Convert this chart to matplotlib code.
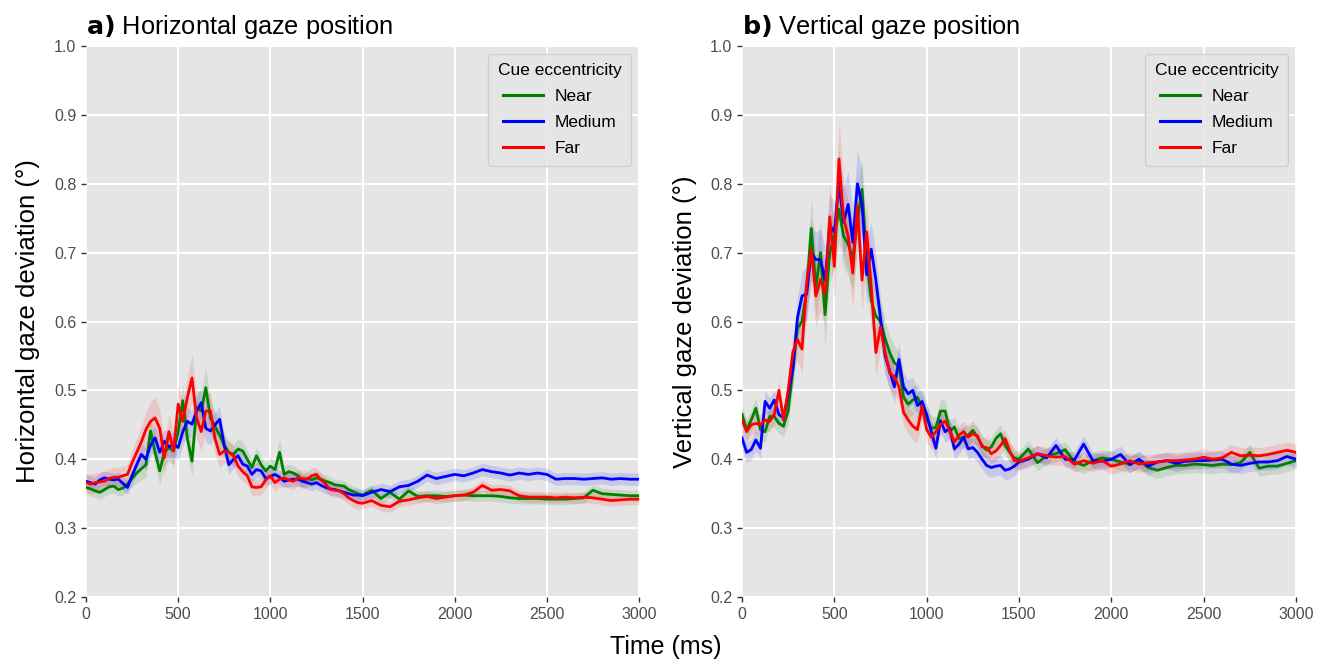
import matplotlib
matplotlib.use("Agg")
import matplotlib.pyplot as plt
import numpy as np

plt.rcParams["font.family"] = ["Liberation Sans", "DejaVu Sans"]

# time axis (ms): 25 ms steps up to 1475, then 50 ms steps
TIME = [*range(0, 1500, 25), *range(1500, 3001, 50)]

LABELS = ["Near", "Medium", "Far"]
COLORS = ["green", "blue", "red"]

# ---- a) horizontal gaze deviation (deg) ----
h_near = [
    0.359, 0.357, 0.354, 0.352, 0.356, 0.360, 0.361, 0.356, 0.358, 0.364,
    0.372, 0.380, 0.386, 0.392, 0.441, 0.410, 0.383, 0.410, 0.417, 0.412,
    0.440, 0.485, 0.430, 0.397, 0.475, 0.470, 0.504, 0.460, 0.448, 0.435,
    0.420, 0.410, 0.407, 0.415, 0.412, 0.400, 0.388, 0.405, 0.392, 0.383,
    0.390, 0.385, 0.410, 0.378, 0.382, 0.380, 0.376, 0.368, 0.372, 0.370,
    0.373, 0.371, 0.368, 0.366, 0.363, 0.362, 0.361, 0.356, 0.353, 0.350,
    0.348, 0.355, 0.343, 0.352, 0.342, 0.354, 0.346, 0.347, 0.347, 0.346,
    0.347, 0.348, 0.347, 0.347, 0.347, 0.346, 0.344, 0.343, 0.343, 0.343,
    0.342, 0.342, 0.342, 0.343, 0.344, 0.355, 0.350, 0.349, 0.348, 0.347,
    0.347,
]
h_medium = [
    0.368, 0.366, 0.364, 0.370, 0.373, 0.371, 0.370, 0.371, 0.365, 0.359,
    0.376, 0.392, 0.407, 0.400, 0.420, 0.431, 0.410, 0.426, 0.418, 0.422,
    0.417, 0.440, 0.455, 0.451, 0.470, 0.482, 0.445, 0.441, 0.450, 0.458,
    0.420, 0.392, 0.400, 0.405, 0.393, 0.390, 0.378, 0.385, 0.383, 0.372,
    0.375, 0.378, 0.374, 0.368, 0.370, 0.371, 0.371, 0.368, 0.366, 0.364,
    0.366, 0.362, 0.359, 0.357, 0.356, 0.354, 0.352, 0.350, 0.348, 0.348,
    0.347, 0.352, 0.356, 0.353, 0.360, 0.362, 0.368, 0.377, 0.372, 0.375,
    0.378, 0.376, 0.380, 0.385, 0.382, 0.380, 0.377, 0.380, 0.378, 0.380,
    0.378, 0.371, 0.372, 0.372, 0.371, 0.372, 0.373, 0.371, 0.372, 0.371,
    0.371,
]
h_far = [
    0.366, 0.364, 0.366, 0.367, 0.368, 0.372, 0.374, 0.374, 0.376, 0.378,
    0.395, 0.410, 0.425, 0.443, 0.455, 0.460, 0.445, 0.402, 0.440, 0.412,
    0.480, 0.455, 0.490, 0.518, 0.460, 0.440, 0.470, 0.470, 0.430, 0.407,
    0.412, 0.410, 0.405, 0.390, 0.382, 0.376, 0.360, 0.359, 0.360, 0.370,
    0.376, 0.366, 0.371, 0.373, 0.370, 0.368, 0.373, 0.372, 0.371, 0.376,
    0.378, 0.370, 0.364, 0.356, 0.355, 0.354, 0.350, 0.344, 0.340, 0.337,
    0.336, 0.340, 0.333, 0.331, 0.339, 0.341, 0.344, 0.346, 0.343, 0.345,
    0.347, 0.348, 0.352, 0.362, 0.355, 0.356, 0.354, 0.347, 0.345, 0.345,
    0.345, 0.344, 0.345, 0.344, 0.345, 0.344, 0.342, 0.340, 0.341, 0.342,
    0.342,
]
# ribbon half widths
h_near_se = (
    [0.010] * 10
    + [0.012, 0.014, 0.016, 0.018, 0.020, 0.020, 0.020, 0.020, 0.020, 0.020]
    + [0.022, 0.025, 0.025, 0.022, 0.025, 0.028, 0.030, 0.025, 0.022, 0.020]
    + [0.018, 0.016, 0.015, 0.015, 0.014, 0.013, 0.012, 0.012, 0.012, 0.012]
    + [0.012, 0.013, 0.020, 0.012, 0.011, 0.011, 0.010, 0.010, 0.010, 0.010]
    + [0.010, 0.009, 0.009, 0.008, 0.008, 0.008, 0.008, 0.008, 0.008, 0.008]
    + [0.008] * 31
)
h_medium_se = (
    [0.010] * 10
    + [0.012, 0.013, 0.015, 0.016, 0.017, 0.018, 0.018, 0.018, 0.018, 0.018]
    + [0.018, 0.020, 0.020, 0.020, 0.022, 0.022, 0.020, 0.020, 0.018, 0.018]
    + [0.016, 0.014, 0.013, 0.013, 0.012, 0.012, 0.011, 0.011, 0.011, 0.010]
    + [0.010] * 10
    + [0.009] * 10
    + [0.009] * 31
)
h_far_se = (
    [0.014] * 10
    + [0.018, 0.020, 0.022, 0.025, 0.028, 0.030, 0.028, 0.025, 0.025, 0.025]
    + [0.028, 0.030, 0.030, 0.035, 0.030, 0.028, 0.028, 0.026, 0.022, 0.020]
    + [0.018, 0.016, 0.015, 0.015, 0.014, 0.013, 0.012, 0.012, 0.012, 0.012]
    + [0.012] * 10
    + [0.010] * 10
    + [0.008] * 31
)

# ---- b) vertical gaze deviation (deg) ----
v_near = [
    0.465, 0.443, 0.457, 0.474, 0.443, 0.440, 0.462, 0.462, 0.452, 0.448,
    0.470, 0.530, 0.590, 0.600, 0.645, 0.735, 0.650, 0.700, 0.610, 0.700,
    0.724, 0.763, 0.724, 0.712, 0.692, 0.745, 0.792, 0.690, 0.630, 0.608,
    0.600, 0.575, 0.555, 0.540, 0.535, 0.490, 0.480, 0.486, 0.490, 0.475,
    0.460, 0.445, 0.446, 0.470, 0.470, 0.440, 0.447, 0.430, 0.432, 0.435,
    0.442, 0.432, 0.420, 0.413, 0.418, 0.430, 0.437, 0.420, 0.410, 0.402,
    0.400, 0.415, 0.395, 0.405, 0.408, 0.414, 0.396, 0.391, 0.398, 0.402,
    0.400, 0.396, 0.393, 0.398, 0.388, 0.384, 0.388, 0.391, 0.391, 0.393,
    0.392, 0.391, 0.393, 0.392, 0.395, 0.410, 0.387, 0.390, 0.390, 0.394,
    0.398,
]
v_medium = [
    0.431, 0.410, 0.414, 0.428, 0.416, 0.484, 0.474, 0.486, 0.465, 0.460,
    0.495, 0.530, 0.605, 0.637, 0.640, 0.700, 0.690, 0.690, 0.660, 0.740,
    0.730, 0.800, 0.744, 0.770, 0.715, 0.800, 0.770, 0.668, 0.705, 0.660,
    0.605, 0.550, 0.528, 0.505, 0.545, 0.505, 0.495, 0.500, 0.478, 0.484,
    0.465, 0.440, 0.416, 0.456, 0.440, 0.445, 0.415, 0.422, 0.432, 0.415,
    0.417, 0.410, 0.400, 0.391, 0.388, 0.390, 0.391, 0.384, 0.386, 0.390,
    0.396, 0.400, 0.408, 0.402, 0.420, 0.400, 0.399, 0.422, 0.398, 0.397,
    0.400, 0.407, 0.392, 0.400, 0.390, 0.396, 0.398, 0.394, 0.397, 0.398,
    0.398, 0.399, 0.400, 0.393, 0.391, 0.394, 0.396, 0.396, 0.398, 0.404,
    0.400,
]
v_far = [
    0.457, 0.440, 0.450, 0.452, 0.450, 0.457, 0.455, 0.465, 0.500, 0.457,
    0.500, 0.555, 0.574, 0.560, 0.655, 0.705, 0.637, 0.661, 0.640, 0.752,
    0.680, 0.836, 0.750, 0.724, 0.670, 0.768, 0.660, 0.730, 0.650, 0.555,
    0.592, 0.555, 0.525, 0.520, 0.505, 0.468, 0.457, 0.448, 0.443, 0.477,
    0.443, 0.432, 0.440, 0.451, 0.455, 0.442, 0.425, 0.435, 0.440, 0.432,
    0.437, 0.434, 0.418, 0.417, 0.408, 0.412, 0.420, 0.430, 0.412, 0.398,
    0.397, 0.402, 0.408, 0.405, 0.403, 0.404, 0.393, 0.398, 0.394, 0.398,
    0.390, 0.393, 0.398, 0.393, 0.395, 0.396, 0.398, 0.398, 0.399, 0.400,
    0.403, 0.400, 0.402, 0.410, 0.405, 0.406, 0.405, 0.407, 0.410, 0.413,
    0.410,
]
v_near_se = (
    [0.015] * 10
    + [0.020, 0.025, 0.030, 0.035, 0.040, 0.045, 0.045, 0.045, 0.045, 0.045]
    + [0.045, 0.045, 0.045, 0.045, 0.045, 0.045, 0.045, 0.040, 0.040, 0.035]
    + [0.030, 0.028, 0.025, 0.025, 0.022, 0.020, 0.020, 0.020, 0.020, 0.018]
    + [0.018, 0.018, 0.016, 0.016, 0.016, 0.015, 0.015, 0.015, 0.015, 0.015]
    + [0.014] * 10
    + [0.012] * 31
)
v_medium_se = (
    [0.015] * 10
    + [0.020, 0.025, 0.030, 0.035, 0.040, 0.040, 0.040, 0.045, 0.045, 0.045]
    + [0.045, 0.050, 0.050, 0.050, 0.045, 0.050, 0.050, 0.045, 0.040, 0.035]
    + [0.030, 0.028, 0.025, 0.025, 0.022, 0.020, 0.020, 0.020, 0.020, 0.018]
    + [0.018, 0.018, 0.016, 0.016, 0.016, 0.015, 0.015, 0.015, 0.015, 0.015]
    + [0.014] * 10
    + [0.012] * 31
)
v_far_se = (
    [0.015] * 10
    + [0.020, 0.025, 0.030, 0.035, 0.040, 0.045, 0.045, 0.045, 0.045, 0.050]
    + [0.050, 0.055, 0.055, 0.050, 0.050, 0.050, 0.045, 0.045, 0.040, 0.035]
    + [0.030, 0.028, 0.025, 0.025, 0.022, 0.020, 0.020, 0.020, 0.020, 0.018]
    + [0.018, 0.018, 0.016, 0.016, 0.016, 0.015, 0.015, 0.015, 0.015, 0.015]
    + [0.014] * 10
    + [0.012] * 31
)

PANELS = [
    ("a)", "Horizontal gaze position", "Horizontal gaze deviation (°)",
     [h_near, h_medium, h_far], [h_near_se, h_medium_se, h_far_se], 10),
    ("b)", "Vertical gaze position", "Vertical gaze deviation (°)",
     [v_near, v_medium, v_far], [v_near_se, v_medium_se, v_far_se], 9),
]

t = np.array(TIME)

fig = plt.figure(figsize=(13.18, 6.59), dpi=100)
rects = [
    [86 / 1318, 1 - 597 / 659, 553 / 1318, 551 / 659],
    [742 / 1318, 1 - 597 / 659, 554 / 1318, 551 / 659],
]

for rect, (tag, title, ylabel, series, ses, lpad) in zip(rects, PANELS):
    ax = fig.add_axes(rect)
    ax.set_facecolor("#E5E5E5")
    for spine in ax.spines.values():
        spine.set_visible(False)
    ax.grid(True, color="white", linewidth=1.4)
    ax.set_axisbelow(True)

    for vals, se, lab, col in zip(series, ses, LABELS, COLORS):
        y = np.array(vals)
        s = np.array(se)
        ax.fill_between(t, y - s, y + s, color=col, alpha=0.13, linewidth=0)
        ax.plot(t, y, color=col, linewidth=2.0, label=lab)

    ax.set_xlim(0, 3000)
    ax.set_ylim(0.2, 1.0)
    ax.set_xticks([0, 500, 1000, 1500, 2000, 2500, 3000])
    ax.set_yticks(np.arange(0.2, 1.01, 0.1))
    ax.yaxis.set_major_formatter(plt.FormatStrFormatter("%.1f"))
    ax.tick_params(axis="both", colors="#333333", labelcolor="#4D4D4D",
                   labelsize=11.5, length=3.5, width=1.0)
    ax.set_ylabel(ylabel, fontsize=18.5, labelpad=lpad)

    ax.set_title(r"$\mathbf{" + tag + "}$ " + title, loc="left",
                 fontsize=18.3, pad=8.5)

    leg = ax.legend(title="Cue eccentricity", loc="upper right",
                    fontsize=12.5, title_fontsize=12.5, frameon=True,
                    fancybox=True, handlelength=2.3, handletextpad=0.65,
                    borderpad=0.55, borderaxespad=0.45, labelspacing=0.62)
    leg.get_frame().set_facecolor("#E5E5E5")
    leg.get_frame().set_edgecolor("#CCCCCC")
    leg.get_frame().set_alpha(0.85)
    for line in leg.get_lines():
        line.set_linewidth(2.2)

fig.text(666 / 1318, 1 - 647 / 659, "Time (ms)", ha="center", va="center",
         fontsize=18)

fig.savefig("out.png", dpi=100)
